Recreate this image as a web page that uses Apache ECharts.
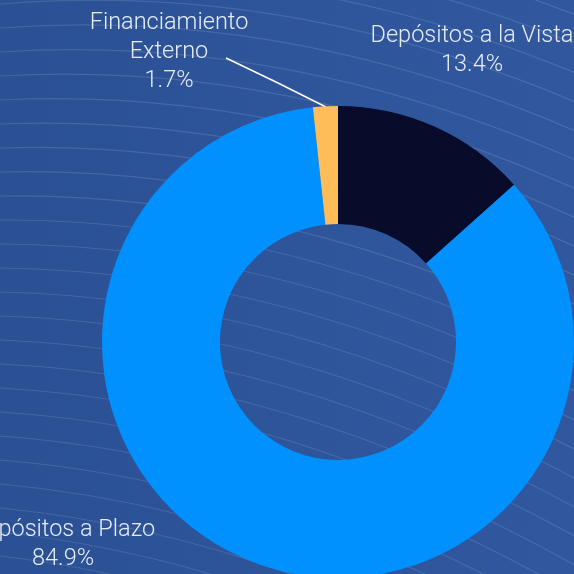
<!DOCTYPE html>
<html>
<head>
<meta charset="utf-8">
<script src="https://cdn.jsdelivr.net/npm/echarts@6/dist/echarts.min.js"></script>
<style>
  html, body { margin: 0; padding: 0; }
  #main { width: 574px; height: 574px; }
</style>
</head>
<body>
<div id="main"></div>
<script>
  // datos del gráfico
  var categories = ['Depósitos a la Vista', 'Depósitos a Plazo', 'Financiamiento Externo'];
  var labelNames = ['Depósitos a la Vista', 'Depósitos a Plazo', 'Financiamiento\nExterno'];
  var values = [13.4, 84.9, 1.7];
  var colors = ['#080b2a', '#0091ff', '#ffbd59'];

  // posiciones de las etiquetas (centro del texto)
  var labelPos = [[472, 51], [63, 545], [169, 52]];

  // líneas decorativas del fondo
  var bgLines = [];
  for (var L = -260; L < 600; L += 24) {
    var s0 = -0.08 + 0.00036 * (L - 12);
    var k = 0.00044;
    bgLines.push({
      type: 'bezierCurve',
      silent: true,
      z: -10,
      shape: {
        x1: 0, y1: L,
        cpx1: 287, cpy1: L + s0 * 287,
        x2: 574, y2: L + s0 * 574 + k * 574 * 574
      },
      style: { stroke: 'rgba(255,255,255,0.12)', lineWidth: 1.2, fill: null }
    });
  }

  var myChart = echarts.init(document.getElementById('main'));
  var option = {
    backgroundColor: {
      type: 'linear', x: 0, y: 0, x2: 1, y2: 0,
      colorStops: [{ offset: 0, color: '#2b5094' }, { offset: 1, color: '#31589f' }]
    },
    graphic: bgLines,
    series: [{
      type: 'pie',
      center: [338, 342],
      radius: [118, 236],
      startAngle: 90,
      clockwise: true,
      avoidLabelOverlap: false,
      silent: true,
      data: categories.map(function (c, i) {
        return {
          name: c,
          value: values[i],
          itemStyle: { color: colors[i] },
          labelLine: { show: i === 2 }
        };
      }),
      label: {
        show: true,
        position: 'outside',
        formatter: function (p) {
          return labelNames[p.dataIndex] + '\n' + p.value.toFixed(1) + '%';
        },
        color: '#e6ecf6',
        fontFamily: 'Roboto',
        fontWeight: 300,
        fontSize: 23.5,
        lineHeight: 29
      },
      labelLine: {
        lineStyle: { color: '#ffffff', width: 1.5 }
      },
      labelLayout: function (p) {
        var pos = labelPos[p.dataIndex];
        var res = { x: pos[0], y: pos[1], align: 'center', verticalAlign: 'middle' };
        if (p.dataIndex === 2) {
          res.labelLinePoints = [[326, 107], [276, 82], [226, 58]];
        }
        return res;
      }
    }]
  };
  myChart.setOption(option);
</script>
</body>
</html>
